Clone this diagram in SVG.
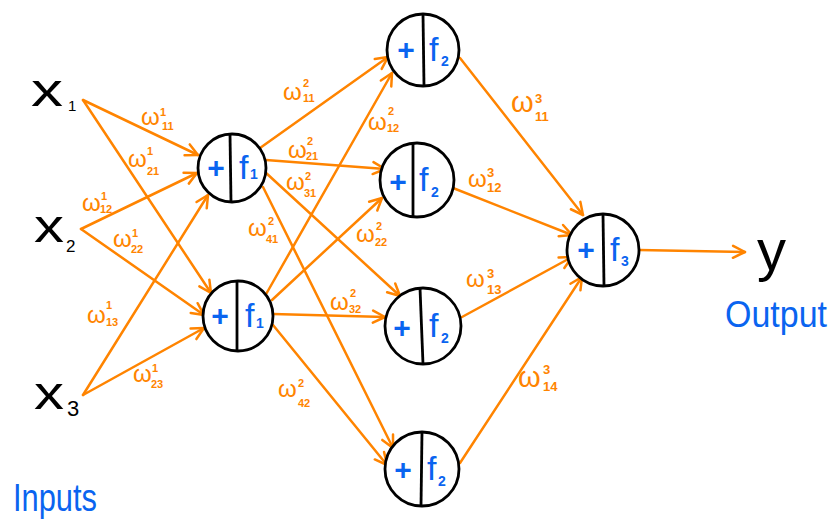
<svg xmlns="http://www.w3.org/2000/svg" width="840" height="532" viewBox="0 0 840 532">
<style>
.edge{stroke:#ff8400;stroke-width:2.5;fill:none;stroke-linecap:round}
.ring{fill:#fff;stroke:#000;stroke-width:2.8}
.div{stroke:#000;stroke-width:2.8}
.plus{font-family:"Liberation Sans",Arial,sans-serif;font-size:30px;font-weight:bold;fill:#0a64f0;text-anchor:middle}
.f{font-family:"Liberation Sans",Arial,sans-serif;font-size:34px;fill:#0a64f0}
.fs{font-family:"Liberation Sans",Arial,sans-serif;font-size:14px;font-weight:bold;fill:#0a64f0}
.var{font-family:"Liberation Sans",Arial,sans-serif;fill:#000}
.w{font-family:"Liberation Sans",Arial,sans-serif;font-size:24px;fill:#ff8400}
.w3{font-size:29px}
.i{font-size:11px;font-weight:bold}
.i3{font-size:13px;font-weight:bold}
.lbl{font-family:"Liberation Sans",Arial,sans-serif;fill:#0a64f0}
</style>
<defs>
<marker id="arr" viewBox="-14 -8 16 16" refX="0" refY="0" markerWidth="16" markerHeight="16" markerUnits="userSpaceOnUse" orient="auto">
<path d="M-12,-6 L0,0 L-12,6" fill="none" stroke="#ff8400" stroke-width="2.5" stroke-linecap="round" stroke-linejoin="round"/>
</marker>
</defs>
<rect width="840" height="532" fill="#fff"/>

<g id="connectors">
<line class="edge" x1="83" y1="100" x2="198" y2="155" marker-end="url(#arr)"/>
<line class="edge" x1="83" y1="100" x2="211" y2="293" marker-end="url(#arr)"/>
<line class="edge" x1="81" y1="229" x2="197" y2="173" marker-end="url(#arr)"/>
<line class="edge" x1="81" y1="229" x2="204" y2="315" marker-end="url(#arr)"/>
<line class="edge" x1="83" y1="395" x2="208" y2="195" marker-end="url(#arr)"/>
<line class="edge" x1="83" y1="395" x2="204" y2="328" marker-end="url(#arr)"/>
<line class="edge" x1="260" y1="148" x2="388" y2="57" marker-end="url(#arr)"/>
<line class="edge" x1="266" y1="160" x2="385" y2="169" marker-end="url(#arr)"/>
<line class="edge" x1="265" y1="172" x2="400" y2="296" marker-end="url(#arr)"/>
<line class="edge" x1="263" y1="187" x2="393" y2="448" marker-end="url(#arr)"/>
<line class="edge" x1="265" y1="296" x2="392" y2="73" marker-end="url(#arr)"/>
<line class="edge" x1="272" y1="300" x2="382" y2="198" marker-end="url(#arr)"/>
<line class="edge" x1="273" y1="314" x2="385" y2="317" marker-end="url(#arr)"/>
<line class="edge" x1="273" y1="325" x2="387" y2="465" marker-end="url(#arr)"/>
<line class="edge" x1="460" y1="58" x2="583" y2="215" marker-end="url(#arr)"/>
<line class="edge" x1="453" y1="188" x2="572" y2="235" marker-end="url(#arr)"/>
<line class="edge" x1="462" y1="317" x2="572" y2="257" marker-end="url(#arr)"/>
<line class="edge" x1="460" y1="463" x2="582" y2="277" marker-end="url(#arr)"/>
<line class="edge" x1="639" y1="250" x2="745" y2="252" marker-end="url(#arr)"/>
</g>

<g id="weights">
<text class="w"><tspan x="141" y="125">ω</tspan><tspan class="i" x="160" y="116">1</tspan><tspan class="i" x="162" y="130">11</tspan></text>
<text class="w"><tspan x="128" y="167">ω</tspan><tspan class="i" x="147" y="155">1</tspan><tspan class="i" x="147" y="175">21</tspan></text>
<text class="w"><tspan x="82" y="211">ω</tspan><tspan class="i" x="101" y="200">1</tspan><tspan class="i" x="100" y="213">12</tspan></text>
<text class="w"><tspan x="113" y="247">ω</tspan><tspan class="i" x="132" y="237">1</tspan><tspan class="i" x="131" y="253">22</tspan></text>
<text class="w"><tspan x="87" y="323">ω</tspan><tspan class="i" x="106" y="309">1</tspan><tspan class="i" x="106" y="326">13</tspan></text>
<text class="w"><tspan x="133" y="382">ω</tspan><tspan class="i" x="152" y="372">1</tspan><tspan class="i" x="151" y="388">23</tspan></text>

<text class="w"><tspan x="283" y="100">ω</tspan><tspan class="i" x="303" y="87">2</tspan><tspan class="i" x="303" y="102">11</tspan></text>
<text class="w"><tspan x="368" y="130">ω</tspan><tspan class="i" x="388" y="115">2</tspan><tspan class="i" x="387" y="132">12</tspan></text>
<text class="w"><tspan x="288" y="158">ω</tspan><tspan class="i" x="307" y="145">2</tspan><tspan class="i" x="306" y="160">21</tspan></text>
<text class="w"><tspan x="286" y="190">ω</tspan><tspan class="i" x="305" y="180">2</tspan><tspan class="i" x="304" y="197">31</tspan></text>
<text class="w"><tspan x="248" y="236">ω</tspan><tspan class="i" x="268" y="225">2</tspan><tspan class="i" x="266" y="243">41</tspan></text>
<text class="w"><tspan x="356" y="242">ω</tspan><tspan class="i" x="376" y="230">2</tspan><tspan class="i" x="375" y="246">22</tspan></text>
<text class="w"><tspan x="330" y="310">ω</tspan><tspan class="i" x="350" y="297">2</tspan><tspan class="i" x="349" y="313">32</tspan></text>
<text class="w"><tspan x="278" y="397">ω</tspan><tspan class="i" x="298" y="387">2</tspan><tspan class="i" x="298" y="407">42</tspan></text>

<text class="w w3"><tspan x="511" y="112">ω</tspan><tspan class="i3" x="535" y="103">3</tspan><tspan class="i3" x="535" y="121">11</tspan></text>
<text class="w"><tspan x="468" y="187">ω</tspan><tspan class="i3" x="487" y="177">3</tspan><tspan class="i3" x="487" y="192">12</tspan></text>
<text class="w"><tspan x="466" y="287">ω</tspan><tspan class="i3" x="487" y="278">3</tspan><tspan class="i3" x="487" y="294">13</tspan></text>
<text class="w w3"><tspan x="518" y="387">ω</tspan><tspan class="i3" x="543" y="374">3</tspan><tspan class="i3" x="543" y="391">14</tspan></text>
</g>

<g id="x1"><text class="var" font-size="46" x="31" y="106" textLength="32" lengthAdjust="spacingAndGlyphs">x</text><text class="var" font-size="15" x="68" y="111">1</text></g>
<g id="x2"><text class="var" font-size="46" x="34" y="242" textLength="30" lengthAdjust="spacingAndGlyphs">x</text><text class="var" font-size="17" x="66" y="252">2</text></g>
<g id="x3"><text class="var" font-size="46" x="34" y="409" textLength="30" lengthAdjust="spacingAndGlyphs">x</text><text class="var" font-size="22" x="67" y="416">3</text></g>
<g id="y"><text class="var" font-size="58" x="757" y="270">y</text></g>

<g id="h1" transform="translate(232,168)">
<circle class="ring" r="34"/><line class="div" x1="-2" y1="-34" x2="-1" y2="34"/>
<text class="plus" x="-16" y="10">+</text><text class="f" x="7" y="11">f</text><text class="fs" x="18" y="11">1</text>
</g>
<g id="h2" transform="translate(238,316)">
<circle class="ring" r="35"/><line class="div" x1="-1" y1="-35" x2="-1" y2="35"/>
<text class="plus" x="-18" y="10">+</text><text class="f" x="7" y="11">f</text><text class="fs" x="18" y="12">1</text>
</g>
<g id="a" transform="translate(423,50)">
<circle class="ring" r="36"/><line class="div" x1="0" y1="-36" x2="1" y2="36"/>
<text class="plus" x="-17" y="10">+</text><text class="f" x="6" y="11">f</text><text class="fs" x="18" y="16">2</text>
</g>
<g id="b" transform="translate(417,180)">
<circle class="ring" r="37"/><line class="div" x1="-4" y1="-37" x2="-4" y2="37"/>
<text class="plus" font-size="34" x="-19" y="12">+</text><text class="f" x="2" y="11">f</text><text class="fs" x="14" y="17">2</text>
</g>
<g id="c" transform="translate(423,326)">
<circle class="ring" r="38"/><line class="div" x1="-3" y1="-38" x2="0" y2="38"/>
<text class="plus" font-size="34" x="-21" y="12">+</text><text class="f" x="6" y="11">f</text><text class="fs" x="18" y="17">2</text>
</g>
<g id="d" transform="translate(422,469)">
<circle class="ring" r="37"/><line class="div" x1="0" y1="-37" x2="-1" y2="37"/>
<text class="plus" x="-19" y="11">+</text><text class="f" x="5" y="11">f</text><text class="fs" x="16" y="17">2</text>
</g>
<g id="out" transform="translate(603,250)">
<circle class="ring" r="36"/><line class="div" x1="0" y1="-36" x2="1" y2="36"/>
<text class="plus" x="-17" y="10">+</text><text class="f" x="7" y="11">f</text><text class="fs" x="18" y="16">3</text>
</g>

<g id="labels">
<text class="lbl" font-size="38" x="13" y="511" textLength="84" lengthAdjust="spacingAndGlyphs">Inputs</text>
<text class="lbl" font-size="36" x="725" y="327" textLength="102" lengthAdjust="spacingAndGlyphs">Output</text>
</g>
</svg>
